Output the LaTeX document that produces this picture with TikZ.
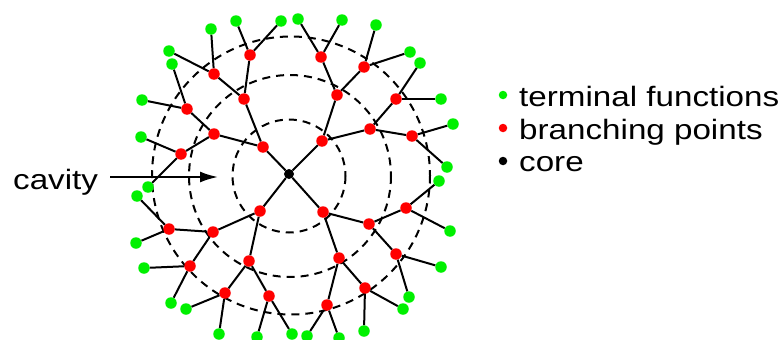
\documentclass[tikz,border=0pt]{standalone}
\usepackage{fontspec}
\setmainfont[FakeStretch=1.185]{Liberation Sans}
\usetikzlibrary{arrows.meta}
\definecolor{tgreen}{RGB}{0,240,0}
\definecolor{bred}{RGB}{255,0,0}
\tikzset{
  term/.style={circle,fill=tgreen,draw=none,minimum size=11.5pt,inner sep=0pt},
  bpt/.style={circle,fill=bred,draw=none,minimum size=11.5pt,inner sep=0pt},
  corept/.style={circle,fill=black,draw=none,minimum size=10pt,inner sep=0pt},
  legdot/.style={circle,draw=none,minimum size=8.5pt,inner sep=0pt},
  bond/.style={line width=2pt,black},
  shell/.style={line width=2pt,dash pattern=on 8pt off 6pt},
  lbl/.style={inner sep=0pt,font=\fontsize{28}{33}\selectfont}
}
\begin{document}
\begin{tikzpicture}[x=1pt,y=-1pt]
\useasboundingbox (0,0) rectangle (782,340);
% shells
\draw[shell] (291,175.5) circle (139);
\draw[shell] (290,176) circle (101);
\draw[shell] (289,176) circle (56.5);
% core
\node[corept] (c) at (289,174) {};
% generation 1
\node[bpt] (a) at (263,147) {};
\node[bpt] (b) at (322,141) {};
\node[bpt] (d) at (260,211) {};
\node[bpt] (e) at (323,212) {};
% generation 2
\node[bpt] (a1) at (244,99) {};
\node[bpt] (a2) at (214,134) {};
\node[bpt] (b1) at (337,95) {};
\node[bpt] (b2) at (370,129) {};
\node[bpt] (d1) at (213,232) {};
\node[bpt] (d2) at (249,261) {};
\node[bpt] (e1) at (369,224) {};
\node[bpt] (e2) at (339,258) {};
% generation 3
\node[bpt] (a11) at (214,74) {};
\node[bpt] (a12) at (250,55) {};
\node[bpt] (a21) at (187,109) {};
\node[bpt] (a22) at (181,154) {};
\node[bpt] (b11) at (321,57) {};
\node[bpt] (b12) at (364,67) {};
\node[bpt] (b21) at (396,99) {};
\node[bpt] (b22) at (412,136) {};
\node[bpt] (d11) at (169,229) {};
\node[bpt] (d12) at (190,266) {};
\node[bpt] (d21) at (225,293) {};
\node[bpt] (d22) at (269,296) {};
\node[bpt] (e11) at (406,208) {};
\node[bpt] (e12) at (396,254) {};
\node[bpt] (e21) at (365,288) {};
\node[bpt] (e22) at (327,305) {};
% terminals
\node[term] (a11x) at (211,29) {};
\node[term] (a11y) at (169,51) {};
\node[term] (a12x) at (236,21) {};
\node[term] (a12y) at (281,21) {};
\node[term] (a21x) at (172,64) {};
\node[term] (a21y) at (142,100) {};
\node[term] (a22x) at (141,137) {};
\node[term] (a22y) at (148,187) {};
\node[term] (b11x) at (298,19) {};
\node[term] (b11y) at (342,20) {};
\node[term] (b12x) at (376,25) {};
\node[term] (b12y) at (410,52) {};
\node[term] (b21x) at (420,63) {};
\node[term] (b21y) at (441,99) {};
\node[term] (b22x) at (453,124) {};
\node[term] (b22y) at (447,167) {};
\node[term] (d11x) at (137,196) {};
\node[term] (d11y) at (136,243) {};
\node[term] (d12x) at (144,268) {};
\node[term] (d12y) at (171,303) {};
\node[term] (d21x) at (186,309) {};
\node[term] (d21y) at (219,334) {};
\node[term] (d22x) at (257,337) {};
\node[term] (d22y) at (292,334) {};
\node[term] (e11x) at (439,181) {};
\node[term] (e11y) at (450,231) {};
\node[term] (e12x) at (441,267) {};
\node[term] (e12y) at (409,297) {};
\node[term] (e21x) at (403,309) {};
\node[term] (e21y) at (364,331) {};
\node[term] (e22x) at (307,336) {};
\node[term] (e22y) at (339,338) {};
% bonds
\foreach \p in {a,b,d,e}{
  \draw[bond] (c) -- (\p);
  \foreach \q in {1,2}{
    \draw[bond] (\p) -- (\p\q);
    \foreach \r in {1,2}{
      \draw[bond] (\p\q) -- (\p\q\r);
      \draw[bond] (\p\q\r) -- (\p\q\r x);
      \draw[bond] (\p\q\r) -- (\p\q\r y);
    }
  }
}
% legend
\node[legdot,fill=tgreen] (lg) at (503,95) {};
\node[legdot,fill=bred] (lr) at (503,128) {};
\node[legdot,fill=black] (lk) at (503,161) {};
\node[lbl,anchor=base west] (tg) at (519,106.5) {terminal functions};
\node[lbl,anchor=base west] (tr) at (519,139.5) {branching points};
\node[lbl,anchor=base west] (tk) at (519,171.5) {core};
% cavity
\node[lbl,anchor=base west] (cav) at (13,189) {cavity};
\coordinate (arrE) at (218,177);
\draw[line width=2pt,-{Latex[length=18pt,width=11pt]}] ([xshift=12pt]cav.east |- arrE) -- (arrE);
\end{tikzpicture}
\end{document}
